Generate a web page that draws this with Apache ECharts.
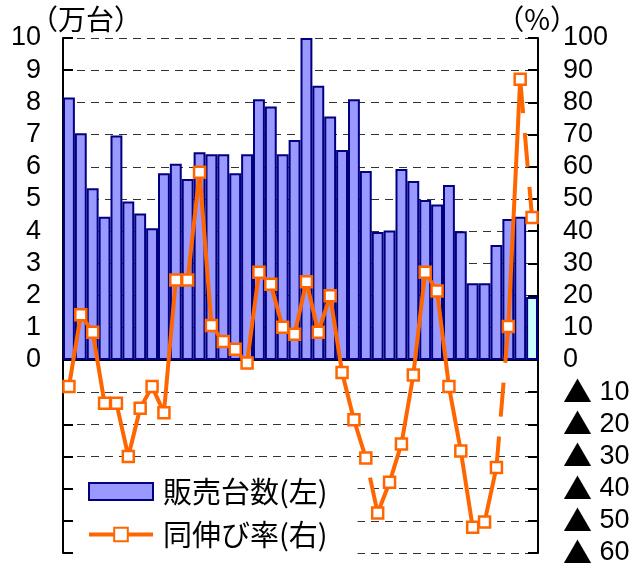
<!DOCTYPE html>
<html><head><meta charset="utf-8">
<script src="https://cdn.jsdelivr.net/npm/echarts@6/dist/echarts.min.js"></script>
<style>html,body{margin:0;padding:0;background:#fff}#c{width:640px;height:568px}</style>
</head><body><div id="c"></div>
<script>
const categories = ['1','2','3','4','5','6','7','8','9','10','11','12','13','14','15','16','17','18','19','20',
  '21','22','23','24','25','26','27','28','29','30','31','32','33','34','35','36','37','38','39','40'];
const salesValues = [8.15, 7.04, 5.33, 4.45, 6.97, 4.92, 4.55, 4.09, 5.8, 6.09, 5.62, 6.45, 6.39, 6.39, 5.8, 6.39, 8.1, 7.87, 6.39, 6.83,
  10.0, 8.52, 7.56, 6.52, 8.1, 5.87, 3.97, 4.02, 5.93, 5.56, 4.97, 4.83, 5.43, 4.0, 2.38, 2.38, 3.57, 4.38, 4.45, 1.95];
const growthRates = [-8.3, 14, 8.6, -13.5, -13.5, -30, -15, -8.3, -16.4, 24.8, 24.8, 58.3, 10.7, 5.7, 3.3, -1.0, 27.2, 23.5, 10.1, 8.0,
  24.3, 8.6, 19.9, -3.9, -18.6, -30.5, -47.6, -38, -26.1, -4.7, 27.2, 21.4, -8.3, -28.3, -52, -50.4, -33.4, 10.4, 87.2, 44.2];
const seriesNames = ['販売台数(左)', '同伸び率(右)'];
const leftAxisName = '（万台）';
const rightAxisName = '（%）';
const leftRange = {min: -6, max: 10, interval: 1};
const rightRange = {min: -60, max: 100, interval: 10};
// line segments drawn solid / dashed (index ranges into growthRates)
const solidRanges = [[0, 25], [26, 36], [37, 38]];
const dashedRanges = [[25, 26, 34], [36, 37, 3], [38, 39, 0]];
const lastBarIndex = 39;

const ORANGE = '#FF6600';
const part = (a, b) => growthRates.map((v, i) => (i >= a && i <= b) ? v : null);

const lineSeries = [];
solidRanges.forEach((r, k) => lineSeries.push({
  name: 'seg' + k, type: 'line', yAxisIndex: 1, data: part(r[0], r[1]), symbol: 'none',
  connectNulls: false, lineStyle: {color: ORANGE, width: 4}, z: 3, silent: true
}));
dashedRanges.forEach((r, k) => lineSeries.push({
  name: 'dseg' + k, type: 'line', yAxisIndex: 1, data: part(r[0], r[1]), symbol: 'none',
  lineStyle: {color: ORANGE, width: 4, type: [34, 20], dashOffset: r[2]}, z: 3, silent: true
}));

const chart = echarts.init(document.getElementById('c'), null, {renderer: 'canvas'});
chart.setOption({
  animation: false,
  backgroundColor: '#fff',
  grid: {left: 63, right: 102, top: 38, bottom: 15},
  graphic: [
    {type: 'text', left: 30, top: 5, style: {text: leftAxisName, font: '28px "Noto Sans CJK JP"', fill: '#000'}},
    {type: 'text', right: 62, top: 5, style: {text: rightAxisName, font: '28px "Noto Sans CJK JP"', fill: '#000'}}
  ],
  legend: {
    orient: 'vertical', left: 73, top: 466, backgroundColor: '#fff',
    padding: [10, 30, 5, 14], itemWidth: 64, itemHeight: 17, itemGap: 12,
    textStyle: {fontFamily: '"Noto Sans CJK JP"', fontSize: 29, color: '#000', lineHeight: 31, padding: [0, 0, 0, 5]},
    data: [
      {name: seriesNames[0], icon: 'rect'},
      {name: seriesNames[1], lineStyle: {color: ORANGE, width: 4, opacity: 1}}
    ]
  },
  xAxis: {
    type: 'category', data: categories, boundaryGap: true,
    axisLine: {show: true, onZero: true, lineStyle: {color: '#000', width: 2}},
    axisTick: {show: false}, axisLabel: {show: false}, splitLine: {show: false}
  },
  yAxis: [
    {
      type: 'value', position: 'left', min: leftRange.min, max: leftRange.max, interval: leftRange.interval,
      axisLine: {show: true, lineStyle: {color: '#000', width: 2}},
      axisTick: {show: true, inside: true, length: 10, lineStyle: {color: '#000', width: 2}},
      axisLabel: {margin: 22, color: '#000', fontSize: 27, fontFamily: '"Liberation Sans", Arial',
        formatter: v => v >= 0 ? String(v) : ''},
      splitLine: {show: true, lineStyle: {color: '#333', width: 1, type: [8, 6]}}
    },
    {
      type: 'value', position: 'right', min: rightRange.min, max: rightRange.max, interval: rightRange.interval,
      axisLine: {show: true, lineStyle: {color: '#000', width: 2}},
      axisTick: {show: true, inside: true, length: 10, lineStyle: {color: '#000', width: 2}},
      axisLabel: {margin: 25, color: '#000', fontSize: 27, fontFamily: '"Liberation Sans", Arial', align: 'left',
        formatter: v => v < 0 ? '{t|▲} ' + (-v) : String(v),
        rich: {t: {fontFamily: '"Noto Sans CJK JP"', fontSize: 29, color: '#000'}}},
      splitLine: {show: false}
    }
  ],
  series: [
    {
      name: seriesNames[0], type: 'bar', yAxisIndex: 0, barCategoryGap: '0%',
      data: salesValues.map((v, i) => i === lastBarIndex ? {value: v, itemStyle: {color: '#CCFFFF'}} : v),
      itemStyle: {color: '#9999FF', borderColor: '#000080', borderWidth: 2}, z: 2
    },
    ...lineSeries,
    {
      name: seriesNames[1], type: 'line', yAxisIndex: 1, data: growthRates,
      symbol: 'rect', symbolSize: 11, showSymbol: true, showAllSymbol: true,
      lineStyle: {color: ORANGE, width: 4, opacity: 0},
      itemStyle: {color: '#FFFFFF', borderColor: ORANGE, borderWidth: 2.5, opacity: 1}, z: 5
    }
  ]
});
</script></body></html>
